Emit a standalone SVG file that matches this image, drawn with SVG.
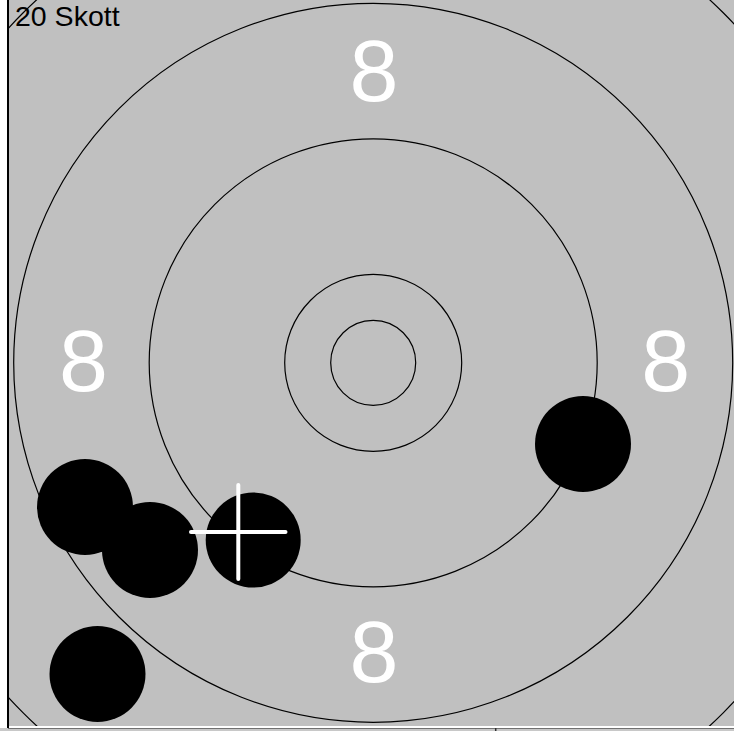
<svg xmlns="http://www.w3.org/2000/svg" width="734" height="731" viewBox="0 0 734 731">
  <style>
    .ring { fill: none; stroke: #000; stroke-width: 1.2; }
    .shot { fill: #000; }
    .num { font-family: "Liberation Sans", Arial, sans-serif; font-size: 88px; fill: #fff; text-anchor: middle; }
    .title { font-family: "Liberation Sans", Arial, sans-serif; font-size: 28.5px; fill: #000; }
    .cross { stroke: #fff; stroke-width: 4; stroke-linecap: round; }
  </style>
  <defs>
    <clipPath id="panel"><rect x="9" y="0" width="725" height="726"/></clipPath>
  </defs>
  <rect x="0" y="0" width="734" height="731" fill="#ffffff"/>
  <rect x="0" y="728" width="734" height="3" fill="#c8c8c8"/>
  <g id="target" clip-path="url(#panel)">
    <rect x="9" y="0" width="725" height="726" fill="#c0c0c0"/>
    <g id="rings">
      <circle class="ring" cx="373.2" cy="362.8" r="495"/>
      <circle class="ring" cx="373.2" cy="362.8" r="359.5"/>
      <circle class="ring" cx="373.2" cy="362.8" r="224"/>
      <circle class="ring" cx="373.2" cy="362.8" r="88.5"/>
      <circle class="ring" cx="373.2" cy="362.8" r="42.5"/>
    </g>
    <g id="labels">
      <text class="num" x="374" y="101">8</text>
      <text class="num" x="83.5" y="391">8</text>
      <text class="num" x="665.8" y="391">8</text>
      <text class="num" x="374" y="681.5">8</text>
    </g>
    <g id="shots">
      <circle class="shot" cx="583" cy="444" r="48"/>
      <circle class="shot" cx="85" cy="507" r="48"/>
      <circle class="shot" cx="150" cy="550" r="48"/>
      <circle class="shot" cx="253.2" cy="540" r="47.5"/>
      <circle class="shot" cx="97.5" cy="674" r="48"/>
    </g>
    <g id="aim">
      <line class="cross" x1="238.3" y1="485" x2="238.3" y2="579"/>
      <line class="cross" x1="191" y1="532" x2="285.5" y2="532"/>
    </g>
  </g>
  <text id="count" class="title" x="15" y="25.8">20 Skott</text>
  <g id="frame">
    <line x1="8" y1="0" x2="8" y2="728" stroke="#000" stroke-width="2"/>
    <line x1="9" y1="726.5" x2="734" y2="726.5" stroke="#ffffff" stroke-width="1"/>
    <line x1="8" y1="728.5" x2="734" y2="728.5" stroke="#707070" stroke-width="1.2"/>
    <line x1="495.7" y1="728" x2="495.7" y2="731" stroke="#303030" stroke-width="1.5"/>
  </g>
</svg>
